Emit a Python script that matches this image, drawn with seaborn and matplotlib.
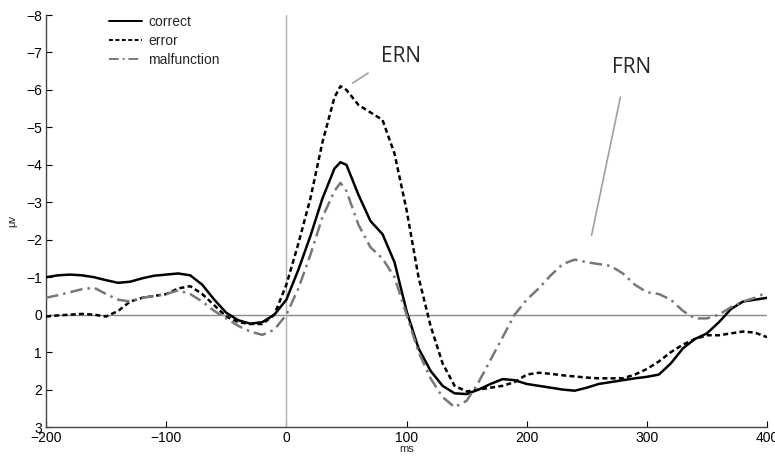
import pandas as pd
import seaborn as sns
import matplotlib.pyplot as plt

# ==========================================
# DATA (in ms / microvolts)
# ==========================================
ms = [-200, -190, -180, -170, -160, -150, -140, -130, -120, -110, -100, -90, -80, -70,
      -60, -50, -40, -30, -20, -10, 0, 10, 20, 30, 40, 45, 50, 60, 70, 80, 90, 100,
      110, 120, 130, 140, 150, 160, 170, 180, 190, 200, 210, 220, 230, 240, 250, 260,
      270, 280, 290, 300, 310, 320, 330, 340, 350, 360, 370, 380, 390, 400]

correct = [-1.0, -1.05, -1.07, -1.05, -1.0, -0.92, -0.85, -0.88, -0.97, -1.04, -1.07, -1.1, -1.05, -0.8,
           -0.4, -0.05, 0.15, 0.24, 0.2, 0.0, -0.4, -1.2, -2.1, -3.1, -3.9, -4.07, -4.0, -3.2, -2.5, -2.15, -1.4, -0.1,
           0.9, 1.5, 1.9, 2.1, 2.12, 2.0, 1.85, 1.72, 1.75, 1.85, 1.9, 1.95, 2.0, 2.03, 1.95, 1.85,
           1.8, 1.75, 1.7, 1.66, 1.6, 1.3, 0.9, 0.65, 0.5, 0.2, -0.15, -0.35, -0.4, -0.45]

error = [0.05, 0.02, 0.0, -0.02, 0.0, 0.05, -0.1, -0.35, -0.45, -0.5, -0.55, -0.7, -0.76, -0.55,
         -0.25, 0.05, 0.2, 0.25, 0.25, 0.0, -0.8, -1.9, -3.1, -4.6, -5.8, -6.1, -6.0, -5.6, -5.4, -5.2, -4.3, -2.8,
         -1.0, 0.3, 1.3, 1.9, 2.05, 2.0, 1.95, 1.9, 1.8, 1.6, 1.55, 1.58, 1.62, 1.65, 1.68, 1.7,
         1.7, 1.7, 1.6, 1.45, 1.25, 1.0, 0.8, 0.65, 0.55, 0.55, 0.5, 0.45, 0.48, 0.6]

malfunction = [-0.45, -0.52, -0.6, -0.68, -0.72, -0.55, -0.4, -0.35, -0.45, -0.5, -0.55, -0.65, -0.55, -0.35,
               -0.1, 0.1, 0.3, 0.45, 0.54, 0.4, 0.0, -0.7, -1.6, -2.6, -3.3, -3.52, -3.3, -2.4, -1.8, -1.5, -1.0, 0.0,
               1.0, 1.7, 2.2, 2.47, 2.3, 1.8, 1.2, 0.6, 0.0, -0.4, -0.7, -1.05, -1.35, -1.47, -1.4, -1.35,
               -1.3, -1.1, -0.8, -0.6, -0.55, -0.4, -0.1, 0.1, 0.1, 0.0, -0.2, -0.35, -0.45, -0.6]

conditions = ['correct', 'error', 'malfunction']
x_ticks = [-200, -100, 0, 100, 200, 300, 400]
y_ticks = [-8, -7, -6, -5, -4, -3, -2, -1, 0, 1, 2, 3]

df = pd.DataFrame({
    'ms': ms * 3,
    'uv': correct + error + malfunction,
    'condition': [c for c in conditions for _ in ms],
})

# ==========================================
# PLOT
# ==========================================
sns.set_style('ticks')
plt.rcParams['font.family'] = ['Liberation Sans', 'DejaVu Sans']

fig = plt.figure(figsize=(7.75, 4.57), dpi=100)
ax = fig.add_axes([0.0594, 0.0656, 0.9303, 0.9015])

# reference lines at 0
ax.axhline(0, color='#8a8a8a', lw=1, zorder=1)
ax.axvline(0, color='#b0b0b0', lw=1, zorder=1)

sns.lineplot(data=df, x='ms', y='uv', hue='condition', style='condition',
             hue_order=conditions, style_order=conditions,
             palette={'correct': 'black', 'error': 'black', 'malfunction': '#787878'},
             dashes={'correct': '', 'error': (2, 1.3), 'malfunction': (5, 2, 1, 2)},
             linewidth=1.8, ax=ax, zorder=3)

ax.set_xlim(-200, 400)
ax.set_ylim(3, -8)
ax.set_xticks(x_ticks)
ax.set_yticks(y_ticks)
ax.set_yticklabels([f'\u2212{abs(v)}' if v < 0 else str(v) for v in y_ticks])
ax.set_xticklabels([f'\u2212{abs(v)}' if v < 0 else str(v) for v in x_ticks])
ax.tick_params(direction='in', length=4, width=0.8, labelsize=10, colors='black', pad=3)
for s in ['top', 'right']:
    ax.spines[s].set_visible(False)
for s in ['left', 'bottom']:
    ax.spines[s].set_color('#444444')
    ax.spines[s].set_linewidth(1)

ax.set_xlabel('ms', fontsize=8, labelpad=-1)
ax.set_ylabel('\u03bcv', fontsize=8, labelpad=6)

leg = ax.legend(loc='upper left', bbox_to_anchor=(0.07, 1.03), frameon=False,
                fontsize=10, handlelength=2.4, handletextpad=0.4, labelspacing=0.35)
for h in leg.get_lines():
    h.set_linewidth(1.4)

# ERN / FRN annotations
ax.text(95, -6.88, 'ERN', fontsize=15, family='Open Sans', ha='center', va='center')
ax.annotate('', xy=(55, -6.18), xytext=(68, -6.45),
            arrowprops=dict(arrowstyle='-', color='#a0a0a0', lw=1.2, shrinkA=0, shrinkB=0))
ax.text(287, -6.61, 'FRN', fontsize=15, family='Open Sans', ha='center', va='center')
ax.annotate('', xy=(254, -2.12), xytext=(278, -5.81),
            arrowprops=dict(arrowstyle='-', color='#a0a0a0', lw=1.2, shrinkA=0, shrinkB=0))

fig.savefig('out.png', dpi=100)
